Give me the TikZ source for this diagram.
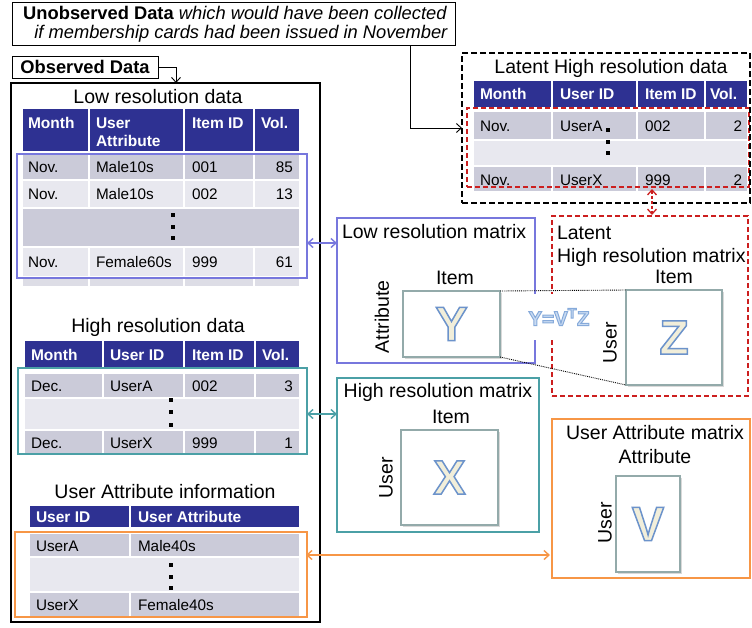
\documentclass[tikz,border=0pt]{standalone}
\usepackage{fontspec}
\setmainfont{Liberation Sans}
\usetikzlibrary{arrows.meta,shadows}
\definecolor{navy}{HTML}{2E3192}
\definecolor{rowdark}{HTML}{CBCBD9}
\definecolor{rowlight}{HTML}{E8E8EF}
\definecolor{rowmid}{HTML}{DDDDE6}
\definecolor{lowblue}{HTML}{7777DD}
\definecolor{tealc}{HTML}{4BA0A6}
\definecolor{orangec}{HTML}{F79646}
\definecolor{redc}{HTML}{CC1F1F}
\definecolor{matgray}{HTML}{93AAAA}
\definecolor{cream}{HTML}{F1EEDA}
\definecolor{eqfill}{HTML}{C9DBF2}
\newcommand\cellbox[5]{\filldraw[fill=#5,cellbg] (#1,#2) rectangle (#3,#4);}
% outlined text: fill colour #1, stroke "r g b" #2, line width #3, text #4
\newcommand\outltext[4]{{\color{#1}\special{pdf:literal direct 2 Tr #3 w #2 RG}#4\special{pdf:literal direct 0 Tr}}}
\begin{document}
\begin{tikzpicture}[x=1pt,y=-1pt,
 every node/.style={inner sep=0pt, outer sep=0pt},
 ttl/.style={font=\fontsize{19.5}{22}\selectfont},
 td/.style={font=\fontsize{15.3}{17}\selectfont, anchor=west},
 tdr/.style={font=\fontsize{15.3}{17}\selectfont, anchor=east},
 th/.style={font=\fontsize{15.5}{17}\selectfont\bfseries, text=white, anchor=west},
 lbl/.style={font=\fontsize{18.3}{21}\selectfont},
 dotsq/.style={fill=black, minimum size=4pt, rectangle},
 matbox/.style={draw=matgray, line width=2.5pt, fill=white, drop shadow={opacity=0.3, shadow xshift=2pt, shadow yshift=-2pt}},
 bigletter/.style={font=\fontsize{48}{48}\selectfont\bfseries},
 cellbg/.style={draw=white, line width=1.5pt},
 arr/.style={-{Straight Barb[length=5pt,width=9pt]}, line width=0.9pt},
 dbl/.style={{Straight Barb[length=5pt,width=9pt]}-{Straight Barb[length=5pt,width=9pt]}, line width=1.4pt},
 reddash/.style={draw=redc, line width=1.6pt, dash pattern=on 5pt off 3pt}
]
\useasboundingbox (0,0) rectangle (752,627);

% ---------- top labels ----------
\node[draw, line width=1pt, minimum width=443pt, minimum height=43pt] (unobs) at (233.5,23.5) {};
\node[lbl, anchor=east] (u1) at (447,13) {\textbf{Unobserved Data} \textit{which would have been collected}};
\node[lbl, anchor=east] (u2) at (448,34) {\textit{if membership cards had been issued in November}};
\node[draw, line width=1pt, minimum width=146pt, minimum height=22pt, font=\fontsize{18.3}{21}\selectfont\bfseries] (obs) at (85,67) {Observed Data};

% ---------- observed big box ----------
\node[draw, line width=2pt, minimum width=309pt, minimum height=539pt] (obsbox) at (165.5,352.5) {};
\coordinate (obsin) at (176,83);
\draw[arr] (obs.east) -| (obsin);

% ---------- Table 1: low resolution ----------
\node[ttl] (t1) at (158,97) {Low resolution data};
\cellbox{22}{108}{89}{152}{navy}\cellbox{89}{108}{184}{152}{navy}\cellbox{184}{108}{254}{152}{navy}\cellbox{254}{108}{300}{152}{navy}
\cellbox{22}{153}{89}{180}{rowdark}\cellbox{89}{153}{184}{180}{rowdark}\cellbox{184}{153}{254}{180}{rowdark}\cellbox{254}{153}{300}{180}{rowdark}
\cellbox{22}{180}{89}{208}{rowlight}\cellbox{89}{180}{184}{208}{rowlight}\cellbox{184}{180}{254}{208}{rowlight}\cellbox{254}{180}{300}{208}{rowlight}
\cellbox{22}{208}{300}{247}{rowdark}
\cellbox{22}{247}{89}{277}{rowlight}\cellbox{89}{247}{184}{277}{rowlight}\cellbox{184}{247}{254}{277}{rowlight}\cellbox{254}{247}{300}{277}{rowlight}
\cellbox{22}{277}{89}{287}{rowmid}\cellbox{89}{277}{184}{287}{rowmid}\cellbox{184}{277}{254}{287}{rowmid}\cellbox{254}{277}{300}{287}{rowmid}
\node[th] (h11) at (28,123) {Month};
\node[th] (h12) at (96,123) {User};
\node[th] (h12b) at (96,141) {Attribute};
\node[th] (h13) at (192,123) {Item ID};
\node[th] (h14) at (261,123) {Vol.};
\node[td] (a11) at (28,167) {Nov.};\node[td] (a12) at (96,167) {Male10s};\node[td] (a13) at (192,167) {001};\node[tdr] (a14) at (293,167) {85};
\node[td] (a21) at (28,194) {Nov.};\node[td] (a22) at (96,194) {Male10s};\node[td] (a23) at (192,194) {002};\node[tdr] (a24) at (293,194) {13};
\node[td] (a41) at (28,262) {Nov.};\node[td] (a42) at (96,262) {Female60s};\node[td] (a43) at (192,262) {999};\node[tdr] (a44) at (293,262) {61};
\node[dotsq] (d11) at (173,215) {};\node[dotsq] (d12) at (173,227) {};\node[dotsq] (d13) at (173,238) {};
\node[draw=lowblue, line width=1.5pt, minimum width=290pt, minimum height=124pt] (lowsel) at (162,216) {};

% ---------- Table 2: high resolution ----------
\node[ttl] (t2) at (158,327) {High resolution data};
\cellbox{24}{340}{103}{370}{navy}\cellbox{103}{340}{184}{370}{navy}\cellbox{184}{340}{255}{370}{navy}\cellbox{255}{340}{300}{370}{navy}
\cellbox{24}{373}{103}{398}{rowdark}\cellbox{103}{373}{184}{398}{rowdark}\cellbox{184}{373}{255}{398}{rowdark}\cellbox{255}{373}{300}{398}{rowdark}
\cellbox{24}{398}{300}{430}{rowlight}
\cellbox{24}{430}{103}{456}{rowdark}\cellbox{103}{430}{184}{456}{rowdark}\cellbox{184}{430}{255}{456}{rowdark}\cellbox{255}{430}{300}{456}{rowdark}
\node[th] (h21) at (31,355) {Month};
\node[th] (h22) at (110,355) {User ID};
\node[th] (h23) at (192,355) {Item ID};
\node[th] (h24) at (262,355) {Vol.};
\node[td] (b11) at (31,386) {Dec.};\node[td] (b12) at (110,386) {UserA};\node[td] (b13) at (192,386) {002};\node[tdr] (b14) at (293,386) {3};
\node[td] (b31) at (31,443) {Dec.};\node[td] (b32) at (110,443) {UserX};\node[td] (b33) at (192,443) {999};\node[tdr] (b34) at (293,443) {1};
\node[dotsq] (d21) at (171,400) {};\node[dotsq] (d22) at (171,412) {};\node[dotsq] (d23) at (171,425) {};
\node[draw=tealc, line width=1.5pt, minimum width=289pt, minimum height=86pt] (highsel) at (162.5,411) {};

% ---------- Table 3: user attribute ----------
\node[ttl] (t3) at (165,492) {User Attribute information};
\cellbox{29}{505}{130}{528}{navy}\cellbox{130}{505}{300}{528}{navy}
\cellbox{29}{533}{130}{557}{rowdark}\cellbox{130}{533}{300}{557}{rowdark}
\cellbox{29}{557}{300}{592}{rowlight}
\cellbox{29}{592}{130}{618}{rowdark}\cellbox{130}{592}{300}{618}{rowdark}
\node[th] (h31) at (36,517) {User ID};
\node[th] (h32) at (138,517) {User Attribute};
\node[td] (c11) at (36,546) {UserA};\node[td] (c12) at (138,546) {Male40s};
\node[td] (c31) at (36,605) {UserX};\node[td] (c32) at (138,605) {Female40s};
\node[dotsq] (d31) at (171,565) {};\node[dotsq] (d32) at (171,577) {};\node[dotsq] (d33) at (171,588) {};
\node[draw=orangec, line width=1.5pt, minimum width=292pt, minimum height=85pt] (attrsel) at (161,574.5) {};

% ---------- Table 4: latent high resolution ----------
\node[ttl] (t4) at (611,68) {Latent High resolution data};
\cellbox{473}{80}{552}{108}{navy}\cellbox{552}{80}{637}{108}{navy}\cellbox{637}{80}{705}{108}{navy}\cellbox{705}{80}{748}{108}{navy}
\cellbox{473}{111}{552}{140}{rowdark}\cellbox{552}{111}{637}{140}{rowdark}\cellbox{637}{111}{705}{140}{rowdark}\cellbox{705}{111}{748}{140}{rowdark}
\cellbox{473}{140}{748}{166}{rowlight}
\cellbox{473}{166}{552}{192}{rowdark}\cellbox{552}{166}{637}{192}{rowdark}\cellbox{637}{166}{705}{192}{rowdark}\cellbox{705}{166}{748}{192}{rowdark}
\node[th] (h41) at (480,94) {Month};
\node[th] (h42) at (560,94) {User ID};
\node[th] (h43) at (645,94) {Item ID};
\node[th] (h44) at (710,94) {Vol.};
\node[td] (e11) at (480,126) {Nov.};\node[td] (e12) at (560,126) {UserA};\node[td] (e13) at (645,126) {002};\node[tdr] (e14) at (742,126) {2};
\node[td] (e31) at (480,180) {Nov.};\node[td] (e32) at (560,180) {UserX};\node[td] (e33) at (645,180) {999};\node[tdr] (e34) at (742,180) {2};
\node[dotsq] (d41) at (608,130) {};\node[dotsq] (d42) at (608,142) {};\node[dotsq] (d43) at (608,153) {};
\node[reddash, minimum width=282pt, minimum height=79pt] (latsel) at (608,147.5) {};
\node[draw, line width=2pt, dash pattern=on 6pt off 3pt, minimum width=288pt, minimum height=150pt] (latbox) at (606,128) {};

\coordinate (ua) at (410,45);
\draw[arr] (ua) |- (latbox.west);

% ---------- matrix boxes ----------
\node[draw=lowblue, line width=1.5pt, minimum width=198pt, minimum height=145pt] (lowmat) at (436,290.5) {};
\node[reddash, minimum width=196pt, minimum height=180pt] (latmat) at (650,306) {};
\node[draw=tealc, line width=1.5pt, minimum width=202pt, minimum height=154pt] (highmat) at (438,455) {};
\node[draw=orangec, line width=1.5pt, minimum width=198pt, minimum height=159pt] (attrmat) at (651,498.5) {};

\node[ttl, anchor=west] (lm) at (342,232) {Low resolution matrix};
\node[ttl, anchor=west] (lt1) at (557,233) {Latent};
\node[ttl, anchor=west] (lt2) at (557,257) {High resolution matrix};
\node[ttl] (hm) at (438,392) {High resolution matrix};
\node[ttl] (am1) at (655,433) {User Attribute matrix};
\node[ttl] (am2) at (655,457) {Attribute};

\node[ttl] (iy) at (455,278) {Item};
\node[ttl, rotate=90] (ay) at (382,317) {Attribute};
\node[ttl] (iz) at (674,277) {Item};
\node[ttl, rotate=90] (uz) at (610,343) {User};
\node[ttl] (ix) at (451,417) {Item};
\node[ttl, rotate=90] (ux) at (386,478) {User};
\node[ttl, rotate=90] (uv) at (605,523) {User};

\node[matbox, minimum width=97pt, minimum height=66pt] (Ym) at (451.5,324) {};
\node[matbox, minimum width=96pt, minimum height=95pt] (Zm) at (674,337.5) {};
\node[matbox, minimum width=97pt, minimum height=95pt] (Xm) at (449.5,477.5) {};
\node[matbox, minimum width=64pt, minimum height=96pt] (Vm) at (648,524) {};
\node[bigletter] (Yl) at (Ym) {\outltext{cream}{0.424 0.576 0.796}{1.5}{Y}};
\node[bigletter] (Zl) at (Zm) {\outltext{cream}{0.424 0.576 0.796}{1.5}{Z}};
\node[bigletter] (Xl) at (Xm) {\outltext{cream}{0.424 0.576 0.796}{1.5}{X}};
\node[bigletter] (Vl) at (Vm) {\outltext{cream}{0.424 0.576 0.796}{1.5}{V}};

\node[fill=white, minimum height=46pt, inner xsep=2pt, font=\fontsize{20.5}{22}\selectfont\bfseries] (eq) at (559,317) {\outltext{eqfill}{0.525 0.667 0.855}{1}{Y=V\textsuperscript{T}Z}};

\draw[densely dotted, line width=0.9pt] (Ym.north east) -- (Zm.north west);
\draw[densely dotted, line width=0.9pt] (Ym.south east) -- (Zm.south west);

% ---------- connectors ----------
\coordinate (bl1) at (307,243); \coordinate (bl2) at (337,243);
\draw[dbl, lowblue] (bl1) -- (bl2);
\coordinate (tl1) at (307,414); \coordinate (tl2) at (337,414);
\draw[dbl, tealc] (tl1) -- (tl2);
\coordinate (or1) at (306,555); \coordinate (or2) at (550,555);
\draw[dbl, orangec] (or1) -- (or2);
\coordinate (rd1) at (652,189); \coordinate (rd2) at (652,215);
\draw[dbl, redc, line width=1.3pt, dash pattern=on 3pt off 2pt] (rd1) -- (rd2);
\end{tikzpicture}
\end{document}
